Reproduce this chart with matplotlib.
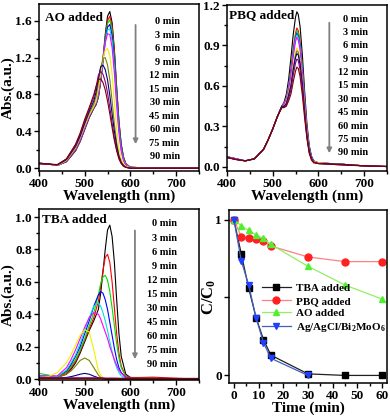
import matplotlib.pyplot as plt
from matplotlib.ticker import MultipleLocator

# ---------------- data ----------------
times = ['0 min', '3 min', '6 min', '9 min', '12 min', '15 min',
         '30 min', '45 min', '60 min', '75 min', '90 min']
origin_colors = ['#000000', '#FF0000', '#00E000', '#0000FF', '#00E0E0', '#FF00FF',
                 '#F0F000', '#808000', '#000080', '#800080', '#800000']

# AO added
ao_wl = [400, 420, 440, 460, 480, 490, 500, 510, 520, 525, 530, 535, 540, 545, 550,
         555, 560, 565, 570, 575, 580, 585, 590, 600, 650, 750]
ao_abs = [
    [.055, .045, .03, .07, .19, .29, .42, .55, .65, .69, .77, .95, 1.19, 1.45, 1.65, 1.70, 1.58, 1.29, .88, .51, .26, .12, .05, .01, 0, 0],
    [.055, .045, .03, .07, .19, .29, .42, .55, .65, .69, .77, .94, 1.17, 1.41, 1.60, 1.65, 1.54, 1.25, .86, .50, .25, .12, .05, .01, 0, 0],
    [.055, .045, .03, .075, .20, .30, .43, .56, .66, .70, .78, .95, 1.17, 1.40, 1.57, 1.61, 1.49, 1.20, .81, .47, .23, .11, .045, .01, 0, 0],
    [.055, .045, .03, .075, .20, .30, .43, .56, .66, .70, .79, .95, 1.16, 1.38, 1.53, 1.56, 1.44, 1.16, .78, .45, .22, .10, .04, .01, 0, 0],
    [.055, .045, .03, .08, .21, .31, .44, .57, .67, .71, .80, .96, 1.17, 1.37, 1.50, 1.51, 1.38, 1.10, .73, .41, .20, .09, .04, .01, 0, 0],
    [.055, .045, .03, .08, .21, .31, .44, .57, .67, .72, .81, .98, 1.18, 1.36, 1.46, 1.45, 1.31, 1.03, .68, .38, .18, .08, .035, .008, 0, 0],
    [.05, .045, .03, .085, .22, .33, .46, .58, .67, .73, .86, 1.03, 1.19, 1.28, 1.30, 1.22, 1.02, .72, .43, .22, .10, .045, .02, .005, 0, 0],
    [.05, .045, .035, .09, .23, .34, .48, .60, .70, .78, .93, 1.09, 1.19, 1.20, 1.12, .96, .73, .48, .28, .14, .07, .03, .01, 0, 0, 0],
    [.05, .045, .035, .095, .24, .35, .49, .62, .73, .83, .98, 1.10, 1.12, 1.07, .96, .79, .59, .40, .24, .13, .06, .03, .01, 0, 0, 0],
    [.05, .045, .035, .10, .25, .37, .51, .64, .77, .88, 1.01, 1.05, 1.02, .94, .82, .66, .49, .33, .20, .11, .055, .025, .01, 0, 0, 0],
    [.05, .045, .04, .10, .26, .38, .53, .66, .80, .89, .96, .97, .93, .85, .73, .59, .44, .30, .19, .10, .05, .02, .01, 0, 0, 0],
]

# PBQ added
pbq_wl = [400, 420, 440, 460, 480, 490, 500, 510, 520, 525, 530, 535, 540, 545, 550,
          553, 556, 560, 565, 570, 575, 580, 585, 590, 600, 650, 700, 750]
pbq_abs = [
    [.075, .06, .045, .06, .13, .20, .28, .37, .45, .48, .54, .65, .81, .98, 1.11, 1.15, 1.13, 1.04, .83, .56, .32, .16, .08, .045, .03, .02, .008, .003],
    [.075, .06, .045, .06, .13, .20, .28, .37, .45, .47, .51, .60, .73, .88, .99, 1.03, 1.01, .93, .74, .50, .29, .14, .07, .04, .03, .02, .008, .003],
    [.075, .06, .045, .06, .13, .20, .28, .37, .45, .47, .51, .60, .71, .86, .97, 1.01, .99, .91, .73, .49, .28, .14, .07, .04, .03, .02, .008, .003],
    [.075, .06, .045, .06, .13, .20, .28, .37, .45, .47, .50, .59, .70, .84, .96, .99, .97, .90, .71, .48, .28, .14, .07, .04, .03, .02, .008, .003],
    [.075, .06, .045, .06, .13, .20, .28, .37, .45, .47, .50, .59, .69, .83, .95, .98, .96, .89, .71, .48, .27, .14, .07, .04, .03, .02, .008, .003],
    [.075, .06, .045, .06, .13, .20, .28, .37, .45, .47, .50, .58, .68, .82, .93, .96, .94, .87, .69, .47, .27, .13, .07, .04, .03, .02, .008, .003],
    [.07, .055, .045, .06, .13, .20, .28, .37, .45, .45, .48, .55, .62, .75, .85, .88, .86, .80, .63, .43, .24, .12, .06, .04, .03, .02, .008, .003],
    [.07, .055, .045, .06, .13, .20, .28, .37, .45, .45, .47, .54, .61, .73, .83, .86, .85, .78, .62, .42, .24, .12, .06, .035, .025, .02, .008, .003],
    [.07, .055, .045, .06, .13, .20, .28, .37, .45, .45, .47, .53, .60, .72, .81, .84, .83, .76, .61, .41, .23, .12, .06, .035, .025, .02, .008, .003],
    [.07, .055, .045, .06, .13, .20, .28, .37, .44, .44, .46, .51, .57, .68, .77, .80, .79, .72, .58, .39, .22, .11, .06, .035, .025, .015, .008, .003],
    [.07, .055, .045, .06, .13, .20, .28, .37, .44, .44, .45, .49, .54, .63, .71, .74, .73, .67, .53, .36, .21, .10, .05, .03, .025, .015, .008, .003],
]

# TBA added
tba_wl = [400, 420, 440, 460, 470, 480, 490, 500, 510, 520, 530, 535, 540, 545, 550,
          555, 560, 565, 570, 575, 580, 590, 600, 620, 650, 700, 750]
tba_abs = [
    [.01, .01, .01, .03, .06, .10, .16, .23, .30, .36, .43, .53, .66, .80, .92, .95, .88, .72, .49, .28, .14, .03, .01, .005, .005, 0, 0],
    [.02, .015, .012, .04, .07, .11, .17, .24, .31, .38, .48, .57, .67, .75, .77, .72, .60, .44, .28, .16, .08, .02, .01, .01, .012, .005, 0],
    [.035, .025, .015, .045, .08, .12, .18, .25, .33, .41, .52, .59, .63, .64, .61, .54, .44, .33, .22, .13, .07, .015, .005, .005, .005, 0, 0],
    [.02, .018, .015, .05, .09, .14, .20, .28, .36, .45, .52, .54, .53, .49, .43, .35, .27, .19, .12, .07, .04, .01, .005, 0, 0, 0, 0],
    [.02, .018, .015, .055, .10, .15, .22, .30, .38, .45, .47, .45, .41, .36, .30, .23, .17, .11, .07, .04, .02, .005, 0, 0, 0, 0, 0],
    [.02, .018, .02, .07, .12, .18, .25, .32, .38, .41, .40, .37, .33, .29, .25, .20, .16, .12, .085, .055, .035, .01, .005, 0, 0, 0, 0],
    [.01, .015, .04, .10, .15, .21, .27, .305, .29, .18, .05, .025, .01, .005, 0, 0, 0, 0, 0, 0, 0, 0, 0, 0, 0, 0, 0],
    [.01, .01, .01, .03, .05, .08, .115, .13, .115, .07, .025, .01, .005, 0, 0, 0, 0, 0, 0, 0, 0, 0, 0, 0, 0, 0, 0],
    [.005, .005, .005, .01, .015, .022, .03, .035, .03, .018, .008, .004, .002, 0, 0, 0, 0, 0, 0, 0, 0, 0, 0, 0, 0, 0, 0],
    [.01, .01, .008, .008, .008, .008, .008, .008, .008, .008, .007, .007, .007, .006, .006, .006, .006, .006, .006, .005, .005, .005, .005, .005, .005, .004, .004],
    [.004, .004, .004, .004, .004, .004, .004, .004, .004, .004, .004, .004, .004, .004, .004, .004, .004, .004, .004, .004, .004, .004, .004, .004, .004, .004, .004],
]

# kinetics C/C0
kin_time = [0, 3, 6, 9, 12, 15, 30, 45, 60]
kin_tba = [1.0, 0.78, 0.56, 0.37, 0.23, 0.13, 0.01, 0.0, 0.0]
kin_pbq = [1.0, 0.89, 0.88, 0.875, 0.86, 0.83, 0.76, 0.73, 0.73]
kin_ao = [1.0, 0.96, 0.93, 0.90, 0.88, 0.84, 0.70, 0.58, 0.49]
kin_cat_time = [0, 3, 6, 9, 12, 15, 30]
kin_cat = [1.0, 0.735, 0.58, 0.37, 0.21, 0.11, 0.0]

# ---------------- style ----------------
plt.rcParams['font.family'] = ['Liberation Serif', 'DejaVu Serif']
plt.rcParams['font.weight'] = 'bold'
plt.rcParams['axes.labelweight'] = 'bold'
plt.rcParams['axes.linewidth'] = 1.1
plt.rcParams['mathtext.fontset'] = 'custom'
plt.rcParams['mathtext.bf'] = 'Liberation Serif:bold'
plt.rcParams['mathtext.rm'] = 'Liberation Serif:bold'
plt.rcParams['mathtext.default'] = 'bf'

fig = plt.figure(figsize=(3.9, 4.17), dpi=100)


def style_axis(ax):
    ax.tick_params(which='both', direction='out', width=1.0, labelsize=9.5, pad=1.5)
    ax.tick_params(which='major', length=3.5)
    ax.tick_params(which='minor', length=2)
    for lab in ax.get_xticklabels() + ax.get_yticklabels():
        lab.set_fontweight('bold')


def spectra_panel(rect, wl, curves, ylim, ymajor, title, fmt, lab_right, lab_top, lab_step,
                  arrow_x, arrow_top, arrow_bot, title_xy):
    ax = fig.add_axes(rect)
    for vals, col in zip(curves, origin_colors):
        ax.plot(wl, vals, color=col, lw=0.8)
    ax.set_xlim(400, 750)
    ax.set_ylim(*ylim)
    ax.xaxis.set_major_locator(MultipleLocator(100))
    ax.xaxis.set_minor_locator(MultipleLocator(50))
    ax.yaxis.set_major_locator(MultipleLocator(ymajor))
    ax.yaxis.set_minor_locator(MultipleLocator(ymajor / 2))
    ax.yaxis.set_major_formatter(fmt)
    ax.set_xlabel('Wavelength (nm)', fontsize=11, labelpad=0)
    style_axis(ax)
    ax.text(title_xy[0], title_xy[1], title, transform=ax.transAxes, fontsize=9.5,
            fontweight='bold', ha='left', va='center')
    for i, t in enumerate(times):
        ax.text(lab_right, lab_top - i * lab_step, t, transform=ax.transAxes,
                fontsize=7.5, fontweight='bold', ha='right', va='center')
    ax.annotate('', xy=(arrow_x, arrow_bot), xytext=(arrow_x, arrow_top),
                xycoords='axes fraction',
                arrowprops=dict(arrowstyle='-|>', color='#808080', lw=1.3, mutation_scale=7))
    return ax


ax1 = spectra_panel([0.100, 0.590, 0.410, 0.400], ao_wl, ao_abs, (-0.03, 1.78), 0.4, 'AO added',
                    '{x:.1f}', 0.88, 0.894, 0.0808, 0.604, 0.892, 0.144, (0.04, 0.919))
ax1.set_ylabel('Abs.(a.u.)', fontsize=11, labelpad=0.5)

ax2 = spectra_panel([0.582, 0.590, 0.410, 0.398], pbq_wl, pbq_abs, (-0.03, 1.2), 0.3, 'PBQ added',
                    '{x:.1f}', 0.885, 0.914, 0.0804, 0.64, 0.91, 0.09, (0.01, 0.94))

ax3 = spectra_panel([0.100, 0.089, 0.410, 0.410], tba_wl, tba_abs, (-0.005, 1.05), 0.2, 'TBA added',
                    '{x:.1f}', 0.865, 0.912, 0.0824, 0.60, 0.89, 0.105, (0.02, 0.936))
ax3.set_ylabel('Abs.(a.u.)', fontsize=11, labelpad=0.5)

# ---------------- kinetics panel ----------------
ax4 = fig.add_axes([0.587, 0.081, 0.405, 0.415])
ax4.plot(kin_time, kin_tba, color='#202020', lw=0.9, marker='s', ms=4.5, mfc='black', mec='black',
         label='TBA added')
ax4.plot(kin_time, kin_pbq, color='#FF8080', lw=0.9, marker='o', ms=5, mfc='#FF2020', mec='#FF2020',
         label='PBQ added')
ax4.plot(kin_time, kin_ao, color='#90F060', lw=0.9, marker='^', ms=5, mfc='#50F030', mec='#50F030',
         label='AO added')
ax4.plot(kin_cat_time, kin_cat, color='#4060C0', lw=0.9, marker='v', ms=5, mfc='#2040FF', mec='#2040FF',
         label='Ag/AgCl/Bi$_2$MoO$_6$')
ax4.set_xlim(-2, 62)
ax4.set_ylim(-0.05, 1.06)
ax4.xaxis.set_major_locator(MultipleLocator(10))
ax4.xaxis.set_minor_locator(MultipleLocator(5))
ax4.set_yticks([0, 0.5, 1])
ax4.set_yticklabels(['0', '', '1'])
ax4.set_xlabel('Time (min)', fontsize=11, labelpad=-0.5)
ax4.set_ylabel('C/C$_0$', fontsize=12, labelpad=-2)
style_axis(ax4)
ax4.legend(loc='center left', bbox_to_anchor=(0.16, 0.43), frameon=False, fontsize=8,
           handlelength=2.6, labelspacing=0.25, borderpad=0.2, handletextpad=0.5)

fig.savefig('out.png', dpi=100)
